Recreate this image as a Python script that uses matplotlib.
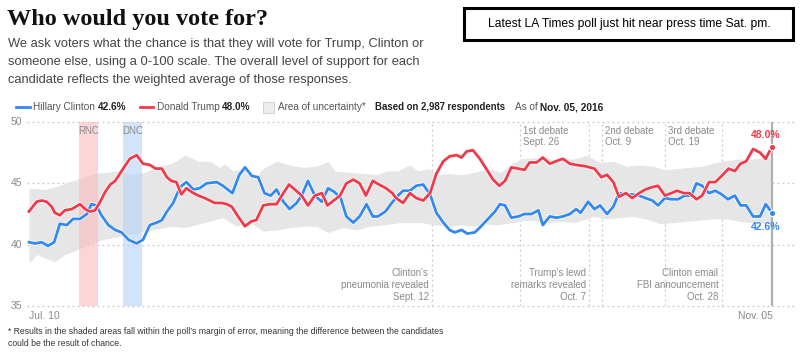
import matplotlib
matplotlib.use("Agg")
import matplotlib.pyplot as plt
import matplotlib.patheffects as pe
from matplotlib.patches import Rectangle
import numpy as np

W, H = 800, 353

# ---------------- data (days since Jul. 10, 2016) ----------------
trump_days = [0, 1.2, 2, 2.8, 3.6, 4.1, 4.9, 5.7, 6.8, 8.1, 8.9, 9.7, 10.5, 11.3, 12.1, 12.9, 13.7, 14.7, 16, 17.1,
              18.1, 19.2, 20.1, 21.1, 21.9, 22.6, 23.4, 24.2, 25, 25.8, 26.9, 27.9, 28.7, 29.5, 30.6, 31.4, 32.2,
              33.2, 34.3, 35.3, 36.1, 37.2, 38.3, 39.3, 40.4, 41.3, 42.2, 43.3, 44.3, 45.4, 46.5, 47.4, 48.4, 49.4,
              50.4, 51.5, 52.5, 53.5, 54.6, 55.6, 56.7, 57.7, 58.3, 59.4, 60.5, 61.5, 62.6, 63.7, 64.7, 65.8, 66.8,
              67.9, 68.7, 69.5, 70.5, 71.6, 72.6, 73.7, 74.7, 75.6, 76.6, 77.7, 78.7, 79.5, 80.6, 81.6, 82.7, 83.7,
              84.8, 85.9, 86.9, 88.3, 89.8, 90.9, 91.8, 92.8, 93.7, 94.8, 95.8, 96.9, 97.9, 99.0, 99.9, 101.0,
              102.0, 102.9, 104.0, 104.9, 106.0, 106.9, 108.0, 109.0, 110.0, 111.1, 112.1, 113.0, 113.9, 115.0,
              116.1, 117.0, 118]
trump_vals = [42.7, 43.5, 43.6, 43.5, 43.1, 42.6, 42.4, 42.8, 42.9, 43.3, 42.9, 42.7, 42.8, 43.5, 44.3, 44.9, 45.2,
              46.0, 47.0, 47.3, 46.6, 46.5, 46.2, 46.2, 45.5, 45.2, 45.1, 44.1, 44.6, 44.3, 44.0, 43.8, 43.6, 43.4,
              43.4, 43.3, 43.1, 42.3, 41.5, 41.9, 42.0, 43.2, 43.3, 43.3, 44.2, 44.9, 44.5, 44.0, 43.2, 44.0, 44.2,
              43.2, 43.6, 44.0, 45.0, 45.3, 45.0, 44.0, 45.2, 44.9, 44.6, 44.2, 43.8, 43.4, 44.2, 43.8, 43.6, 44.2,
              45.8, 46.8, 47.2, 47.3, 47.1, 47.6, 47.7, 47.0, 46.2, 45.3, 44.8, 45.2, 46.3, 46.2, 46.1, 46.7, 46.7,
              47.1, 46.6, 46.8, 47.0, 46.6, 46.5, 46.4, 46.2, 45.5, 45.7, 45.1, 43.9, 44.2, 43.8, 44.2, 44.5, 44.7,
              44.8, 44.0, 44.2, 44.4, 44.2, 44.2, 43.7, 44.0, 45.1, 45.1, 45.6, 46.2, 46.0, 46.6, 46.8, 47.8, 47.5,
              47.0, 48.0]

clinton_days = [0, 0.95, 2.0, 3.0, 4.0, 4.9, 6.0, 7.0, 8.1, 9.2, 9.9, 10.7, 11.5, 12.6, 13.7, 14.7, 15.8, 17.1, 18.1,
                19.2, 20.3, 21.1, 21.9, 22.9, 24.0, 25.0, 26.1, 27.1, 28.2, 29.8, 30.8, 32.3, 33.4, 34.3, 35.4, 36.4,
                37.4, 38.4, 39.3, 40.4, 41.4, 42.5, 43.4, 44.3, 45.4, 46.5, 47.5, 48.5, 49.5, 50.4, 51.5, 52.5, 53.6,
                54.6, 55.4, 56.6, 57.6, 58.6, 59.4, 60.5, 61.5, 62.6, 63.7, 64.7, 65.8, 66.8, 67.6, 68.7, 69.6, 70.8,
                71.8, 72.9, 74.0, 74.8, 75.6, 76.6, 77.7, 78.7, 79.8, 80.9, 81.6, 82.7, 83.8, 84.8, 85.9, 86.9, 87.6,
                88.8, 89.8, 90.7, 91.8, 92.8, 93.7, 94.8, 95.8, 96.9, 97.9, 99.0, 99.9, 101.0, 102.0, 103.1, 104.1,
                105.2, 106.0, 106.9, 108.0, 109.0, 110.0, 111.0, 112.1, 113.0, 113.9, 115.0, 116.1, 117.0, 118]
clinton_vals = [40.2, 40.1, 40.2, 39.9, 40.2, 41.7, 41.6, 42.1, 42.1, 42.5, 43.3, 43.2, 42.4, 41.6, 41.2, 41.0, 40.4,
                40.1, 40.4, 41.6, 41.8, 42.0, 42.7, 43.4, 44.7, 45.1, 44.5, 44.6, 45.0, 45.1, 44.8, 44.2, 45.7, 46.3,
                45.6, 45.5, 44.2, 44.0, 44.5, 43.5, 42.9, 43.4, 44.1, 45.2, 44.0, 43.5, 44.6, 44.3, 43.8, 42.3, 41.8,
                42.3, 43.3, 42.3, 42.3, 42.7, 43.4, 44.0, 44.4, 44.4, 44.8, 44.9, 44.1, 42.6, 41.8, 41.2, 41.0, 41.2,
                40.9, 41.0, 41.5, 42.1, 42.7, 43.3, 43.2, 42.2, 42.3, 42.5, 42.5, 42.8, 41.6, 42.3, 42.2, 42.3, 42.5,
                42.9, 42.6, 43.5, 42.9, 43.2, 42.5, 43.1, 44.2, 44.1, 44.1, 44.0, 43.8, 43.6, 43.2, 43.8, 43.7, 43.7,
                44.0, 44.0, 45.0, 44.8, 44.2, 44.4, 44.1, 43.7, 44.0, 43.2, 43.2, 42.3, 42.3, 43.3, 42.6]

band_upper_days = [0, 2.5, 4.7, 6.8, 8.9, 10.5, 12.1, 14.2, 16.3, 18.4, 20.5, 22.6, 24.8, 26.9, 28.7, 30.3, 31.1,
                   32.4, 34.0, 36.1, 37.2, 39.3, 41.4, 43.5, 45.7, 47.5, 48.6, 50.9, 53.1, 55.2, 56.8, 58.5, 60.5,
                   61.8, 63.4, 65.0, 66.6, 68.7, 70.8, 72.9, 75.0, 76.6, 78.2, 80.3, 82.4, 84.6, 86.7, 88.5, 90.6,
                   92.8, 94.9, 97.0, 99.1, 100.9, 102.8, 104.9, 107.0, 109.1, 111.3, 113.4, 115.5, 118]
band_upper = [44.6, 44.5, 44.8, 45.2, 45.5, 45.8, 45.9, 46.0, 45.7, 45.9, 46.4, 46.6, 47.3, 46.8, 46.8, 46.3, 46.6,
              46.0, 46.2, 45.6, 46.2, 46.8, 46.5, 46.3, 46.4, 46.8, 46.0, 45.9, 45.8, 45.7, 46.0, 46.0, 46.5,
              46.0, 46.2, 45.7, 45.8, 45.7, 45.9, 46.2, 45.9, 46.6, 47.0, 47.1, 47.0, 46.9, 47.0, 47.3, 46.7,
              46.8, 46.4, 46.5, 46.4, 46.1, 46.2, 46.3, 46.4, 46.7, 46.9, 47.0, 47.0, 47.1]
band_lower_days = [0, 1.3, 2.5, 4.1, 5.7, 6.8, 11.6, 14.8, 19.5, 22.7, 24.8, 27.9, 30.8, 32.9, 35.1, 37.2, 39.3,
                   41.4, 43.5, 45.7, 47.5, 49.9, 52.0, 54.1, 56.2, 58.9, 60.2, 62.3, 64.4, 66.6, 68.7, 70.8, 72.4,
                   74.0, 75.6, 77.7, 79.8, 82.0, 84.6, 86.7, 89.6, 91.7, 93.8, 95.9, 98.0, 100.2, 102.3, 104.4,
                   106.5, 108.6, 110.8, 112.9, 115.0, 118]
band_lower = [38.5, 39.2, 38.9, 38.6, 39.2, 39.4, 40.4, 40.7, 41.2, 41.5, 41.4, 41.8, 42.2, 41.5, 41.8, 41.1, 41.2,
              41.4, 41.5, 41.5, 41.0, 41.4, 41.2, 41.5, 41.6, 41.8, 41.8, 41.8, 41.6, 41.5, 41.6, 41.5, 41.7,
              41.6, 41.7, 41.9, 42.0, 41.8, 41.9, 41.8, 42.3, 42.1, 42.2, 42.3, 42.1, 41.7, 41.8, 41.9,
              42.0, 42.1, 42.1, 41.9, 41.8, 41.7]

y_ticks = [35, 40, 45, 50]
x_tick_days = [0, 118]
x_tick_labels = ["Jul. 10", "Nov. 05"]

conventions = ["RNC", "DNC"]
convention_spans = [(8, 11), (15, 18)]

top_events = ["1st debate\nSept. 26", "2nd debate\nOct. 9", "3rd debate\nOct. 19"]
top_event_days = [78, 91, 101]
bottom_events = ["Clinton's\npneumonia revealed\nSept. 12", "Trump's lewd\nremarks revealed\nOct. 7",
                 "Clinton email\nFBI announcement\nOct. 28"]
bottom_event_days = [64, 89, 110]

latest_trump = "48.0%"
latest_clinton = "42.6%"

# ---------------- style ----------------
RED = "#ef3a4c"
BLUE = "#3489ee"
GREY_BAND = "#e6e6e6"
GRID = "#c8c8c8"
TXT_GREY = "#8a8a8a"
SANS = ["Liberation Sans", "DejaVu Sans"]

fig = plt.figure(figsize=(W / 100, H / 100), dpi=100)
fig.patch.set_facecolor("white")


def fx(x):
    return x / W


def fy(y):
    return 1 - y / H


# axes: Jul 10 at x=29, Nov 05 at x=772 ; 50 at y=122, 35 at y=306
px_per_day = (772 - 29) / 118.0
x_left_day = (27 - 29) / px_per_day
x_right_day = (797 - 29) / px_per_day
ax = fig.add_axes([fx(27), fy(306), fx(797) - fx(27), (306 - 122) / H])
ax.set_xlim(x_left_day, x_right_day)
ax.set_ylim(35, 50)
for s in ax.spines.values():
    s.set_visible(False)
ax.set_xticks([])
ax.set_yticks([])

# horizontal grid
for yv in y_ticks:
    ax.axhline(yv, color=GRID, lw=0.9, ls=(0, (1.5, 2.5)), zorder=1, clip_on=False)
    fig.text(fx(22), fy(122 + (50 - yv) * (306 - 122) / 15.0), str(yv), ha="right", va="center",
             fontsize=7.5, color=TXT_GREY, family=SANS)

# vertical event lines
for d in top_event_days + bottom_event_days:
    ax.axvline(d, color=GRID, lw=0.9, ls=(0, (1.5, 2.5)), zorder=1)

# uncertainty band
common = np.union1d(band_upper_days, band_lower_days)
up = np.interp(common, band_upper_days, band_upper)
lo = np.interp(common, band_lower_days, band_lower)
ax.fill_between(common, lo, up, color=GREY_BAND, lw=0, zorder=2)

# conventions
conv_colors = ["#fbb9c1", "#b5d2f7"]
for name, (a, b), c in zip(conventions, convention_spans, conv_colors):
    ax.axvspan(a, b, color=c, alpha=0.6, lw=0, zorder=3)
    ax.text((a + b) / 2, 49.3, name, ha="center", va="center", fontsize=7, color=TXT_GREY, family=SANS, zorder=6)

# end vertical line
ax.plot([118, 118], [35, 50], color="#b0b0b0", lw=1.6, zorder=4, solid_capstyle="butt")

halo = [pe.Stroke(linewidth=3.0, foreground="white"), pe.Normal()]
ax.plot(clinton_days, clinton_vals, color=BLUE, lw=2.0, zorder=5, path_effects=halo, solid_joinstyle="round")
ax.plot(trump_days, trump_vals, color=RED, lw=2.0, zorder=5, path_effects=halo, solid_joinstyle="round")
ax.plot([trump_days[-1]], [trump_vals[-1]], "o", color=RED, ms=4.5, zorder=6, mec="white", mew=0.8)
ax.plot([clinton_days[-1]], [clinton_vals[-1]], "o", color=BLUE, ms=4.5, zorder=6, mec="white", mew=0.8)
ax.text(117.0, 48.9, latest_trump, ha="center", va="center", fontsize=7.5, color=RED, weight="bold",
        family=SANS, zorder=6)
ax.text(117.0, 41.4, latest_clinton, ha="center", va="center", fontsize=7.5, color=BLUE, weight="bold",
        family=SANS, zorder=6)

# top event labels
for lab, d in zip(top_events, top_event_days):
    ax.text(d + 0.5, 49.7, lab, ha="left", va="top", fontsize=7, color=TXT_GREY, family=SANS,
            linespacing=1.2, zorder=6)
# bottom event labels
for lab, d in zip(bottom_events, bottom_event_days):
    ax.text(d - 0.5, 35.3, lab, ha="right", va="bottom", fontsize=7, color=TXT_GREY, family=SANS,
            linespacing=1.25, zorder=6)

# x tick labels
for d, lab in zip(x_tick_days, x_tick_labels):
    xpix = 29 + d * px_per_day
    ha = "left" if d == 0 else "right"
    xp = xpix if d == 0 else xpix + 1
    fig.text(fx(xp), fy(316), lab, ha=ha, va="center", fontsize=7.5, color=TXT_GREY, family=SANS)

# ---------------- header ----------------
fig.text(fx(7), fy(19), "Who would you vote for?", ha="left", va="center", fontsize=17.5, weight="bold",
         family=["Liberation Serif", "DejaVu Serif"], color="#111111")
sub_lines = ["We ask voters what the chance is that they will vote for Trump, Clinton or",
             "someone else, using a 0-100 scale. The overall level of support for each",
             "candidate reflects the weighted average of those responses."]
for i, line in enumerate(sub_lines):
    fig.text(fx(8), fy(44 + 18 * i), line, ha="left", va="center", fontsize=9.25, color="#444444", family=SANS)

# boxed note
fig.patches.append(Rectangle((fx(464), fy(40)), fx(793) - fx(464), (40 - 8) / H, transform=fig.transFigure,
                             fill=False, ec="black", lw=2.2, figure=fig))
fig.text(fx(629), fy(24), "Latest LA Times poll just hit near press time Sat. pm.", ha="center", va="center",
         fontsize=8.75, color="black", family=SANS)

# legend row
ly = 107
LFS = 7.2
fig.lines.append(plt.Line2D([fx(16), fx(30)], [fy(ly), fy(ly)], color=BLUE, lw=2, transform=fig.transFigure))
fig.text(fx(33), fy(ly), "Hillary Clinton", ha="left", va="center", fontsize=LFS, color="#555555", family=SANS)
fig.text(fx(98), fy(ly), "42.6%", ha="left", va="center", fontsize=LFS, color="#222222", weight="bold",
         family=SANS)
fig.lines.append(plt.Line2D([fx(140), fx(153)], [fy(ly), fy(ly)], color=RED, lw=2, transform=fig.transFigure))
fig.text(fx(157), fy(ly), "Donald Trump", ha="left", va="center", fontsize=LFS, color="#555555", family=SANS)
fig.text(fx(222), fy(ly), "48.0%", ha="left", va="center", fontsize=LFS, color="#222222", weight="bold",
         family=SANS)
fig.patches.append(Rectangle((fx(263), fy(ly + 5.5)), 11 / W, 11 / H, transform=fig.transFigure,
                             fc="#ececec", ec="#cccccc", lw=0.6, figure=fig))
fig.text(fx(278), fy(ly), "Area of uncertainty*", ha="left", va="center", fontsize=LFS, color="#555555",
         family=SANS)
fig.text(fx(375), fy(ly), "Based on 2,987 respondents", ha="left", va="center", fontsize=6.9, color="#222222",
         weight="bold", family=SANS)
fig.text(fx(515), fy(ly), "As of", ha="left", va="center", fontsize=LFS, color="#555555", family=SANS)
fig.text(fx(540), fy(ly), "Nov. 05, 2016", ha="left", va="center", fontsize=7.3, color="#222222",
         weight="bold", family=SANS)

# footnote
fig.text(fx(8), fy(326.5), "* Results in the shaded areas fall within the poll\u2019s margin of error, meaning the "
         "difference between the candidates\ncould be the result of chance.", ha="left", va="top", fontsize=6.2,
         color="#333333", family=SANS, linespacing=1.45)

fig.savefig("out.png", dpi=100, facecolor="white")
